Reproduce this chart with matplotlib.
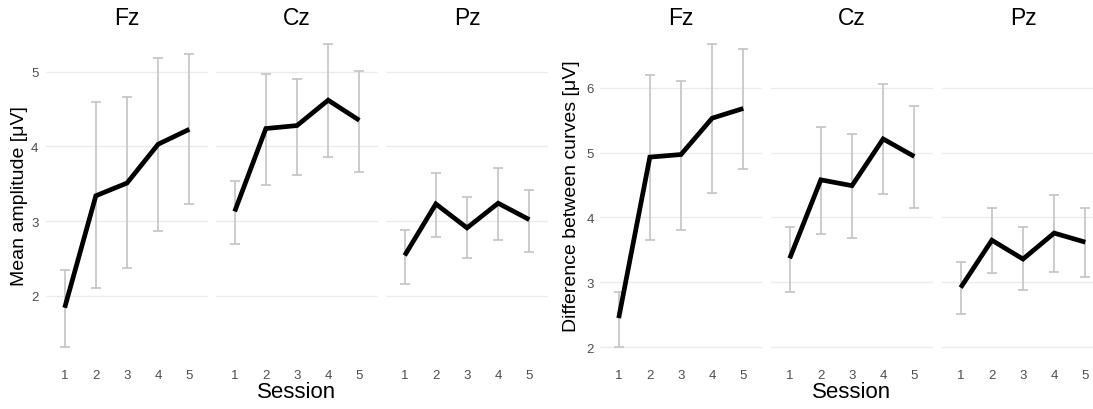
import numpy as np
import matplotlib
matplotlib.use("Agg")
import matplotlib.pyplot as plt
from matplotlib.ticker import MultipleLocator

plt.rcParams["font.family"] = ["Liberation Sans", "DejaVu Sans"]

sessions = [1, 2, 3, 4, 5]
electrodes = ["Fz", "Cz", "Pz"]

# mean amplitude per session, with lower/upper error bar ends
amp_mean = {"Fz": [1.84, 3.34, 3.51, 4.03, 4.23],
            "Cz": [3.13, 4.24, 4.28, 4.62, 4.35],
            "Pz": [2.54, 3.23, 2.91, 3.24, 3.02]}
amp_low = {"Fz": [1.31, 2.10, 2.37, 2.87, 3.23],
           "Cz": [2.70, 3.49, 3.62, 3.86, 3.66],
           "Pz": [2.16, 2.79, 2.51, 2.75, 2.59]}
amp_high = {"Fz": [2.34, 4.59, 4.66, 5.19, 5.24],
            "Cz": [3.54, 4.97, 4.91, 5.37, 5.01],
            "Pz": [2.88, 3.64, 3.32, 3.71, 3.42]}

# difference between curves per session
diff_mean = {"Fz": [2.45, 4.93, 4.97, 5.53, 5.68],
             "Cz": [3.37, 4.58, 4.49, 5.21, 4.94],
             "Pz": [2.92, 3.65, 3.36, 3.76, 3.62]}
diff_low = {"Fz": [2.00, 3.66, 3.81, 4.37, 4.74],
            "Cz": [2.85, 3.74, 3.69, 4.36, 4.14],
            "Pz": [2.51, 3.14, 2.89, 3.16, 3.08]}
diff_high = {"Fz": [2.86, 6.20, 6.11, 6.67, 6.60],
             "Cz": [3.86, 5.40, 5.28, 6.06, 5.72],
             "Pz": [3.31, 4.14, 3.86, 4.34, 4.14]}

W, H = 1093, 410
PANEL_W = 162
TOP, BOTTOM = 30, 363.5
TICK_GREY = "#4d4d4d"

fig = plt.figure(figsize=(W / 100, H / 100), dpi=100)


def add_panel(x0, share=None):
    return fig.add_axes([x0 / W, 1 - BOTTOM / H, PANEL_W / W, (BOTTOM - TOP) / H],
                        sharey=share)


def draw_group(lefts, means, lows, highs, ylabel, ylabel_x, ypad):
    first = None
    for i, name in enumerate(electrodes):
        ax = add_panel(lefts[i], first)
        if first is None:
            first = ax
        m = np.array(means[name])
        lo = np.array(lows[name])
        hi = np.array(highs[name])
        ax.errorbar(sessions, m, yerr=[m - lo, hi - m], fmt="none",
                    ecolor="#c4c4c4", elinewidth=1.2, capsize=3.5, capthick=1.2,
                    zorder=2)
        ax.plot(sessions, m, color="black", lw=3.4, solid_capstyle="butt",
                solid_joinstyle="miter", zorder=3)
        ax.set_xlim(0.4, 5.6)
        ax.set_xticks(sessions)
        ax.yaxis.set_major_locator(MultipleLocator(1))
        ax.grid(axis="y", color="#ebebeb", lw=1.0)
        ax.set_axisbelow(True)
        for s in ax.spines.values():
            s.set_visible(False)
        ax.tick_params(axis="x", length=0, pad=4.5, labelsize=9.5, labelcolor=TICK_GREY)
        ax.tick_params(axis="y", length=0, pad=ypad, labelsize=9.5, labelcolor=TICK_GREY,
                       labelleft=(i == 0))
        cx = lefts[i] + PANEL_W / 2
        fig.text(cx / W, 1 - 25 / H, name, ha="center", va="baseline", fontsize=16.5)

    mid = (lefts[0] + lefts[-1] + PANEL_W) / 2
    fig.text(mid / W, 1 - 398 / H, "Session", ha="center", va="baseline", fontsize=16)
    fig.text(ylabel_x / W, 1 - 196 / H, ylabel, rotation=90, ha="center", va="center",
             fontsize=14)


draw_group([46, 216, 386], amp_mean, amp_low, amp_high,
           "Mean amplitude [μV]", 20, 5.5)
draw_group([600, 771, 942], diff_mean, diff_low, diff_high,
           "Difference between curves [μV]", 571, 4.5)

fig.savefig("out.png", dpi=100)
